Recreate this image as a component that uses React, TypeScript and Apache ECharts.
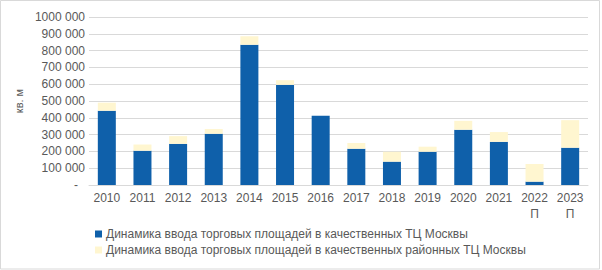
import React, { useEffect, useRef } from "react";
import * as echarts from "echarts";

const categories = ["2010", "2011", "2012", "2013", "2014", "2015", "2016", "2017", "2018", "2019", "2020", "2021", "2022\nП", "2023\nП"];
const qualityMalls = [442000, 204000, 245000, 305000, 835000, 596000, 412000, 216000, 139000, 198000, 329000, 257000, 20000, 222000];
const districtMalls = [48000, 37000, 46000, 28000, 50000, 28000, 0, 34000, 59000, 30000, 53000, 58000, 105000, 164000];
const seriesNames = [
  "Динамика ввода торговых площадей в качественных ТЦ Москвы",
  "Динамика ввода торговых площадей в качественных районных ТЦ Москвы",
];
const yAxisName = "кв. м";

const FONT = "'Liberation Sans', Arial, sans-serif";
const TEXT = "#595959";

function fmt(v: number): string {
  if (v === 0) return "{d|-}";
  const thousands = Math.round(v / 1000);
  return `${thousands} 000`;
}

export default function App() {
  const ref = useRef<HTMLDivElement>(null);
  useEffect(() => {
    document.body.style.margin = "0";
    if (!ref.current) return;
    const chart = echarts.init(ref.current, undefined, { renderer: "svg" });
    chart.setOption({
      animation: false,
      backgroundColor: "#ffffff",
      textStyle: { fontFamily: FONT },
      graphic: [
        {
          type: "rect",
          shape: { x: 0.5, y: 0.5, width: 599, height: 268.5 },
          style: { fill: "none", stroke: "#d9d9d9", lineWidth: 1 },
          silent: true,
          z: 100,
        },
      ],
      grid: { left: 89, right: 14, top: 17, bottom: 85, containLabel: false },
      legend: {
        orient: "vertical",
        left: 95,
        top: 228,
        padding: 0,
        itemWidth: 7,
        itemHeight: 7,
        itemGap: 4,
        icon: "rect",
        textStyle: { fontSize: 12, color: TEXT, fontFamily: FONT, padding: [0, 0, 0, -1] },
        data: seriesNames,
      },
      xAxis: {
        type: "category",
        data: categories,
        axisLine: { lineStyle: { color: "#d9d9d9" } },
        axisTick: { show: false },
        axisLabel: { color: TEXT, fontSize: 12, margin: 5, lineHeight: 16, fontFamily: FONT, interval: 0 },
      },
      yAxis: {
        type: "value",
        min: 0,
        max: 1000000,
        interval: 100000,
        name: yAxisName,
        nameLocation: "middle",
        nameRotate: 90,
        nameGap: 60,
        nameTextStyle: { color: TEXT, fontSize: 11, fontFamily: FONT },
        axisLine: { show: false },
        axisTick: { show: false },
        splitLine: { lineStyle: { color: "#d9d9d9" } },
        axisLabel: {
          color: TEXT,
          fontSize: 12,
          margin: 4,
          fontFamily: FONT,
          formatter: fmt,
          rich: { d: { color: TEXT, fontSize: 12, padding: [0, 7, 0, 0], fontFamily: FONT } },
        },
      },
      series: [
        {
          name: seriesNames[0],
          type: "bar",
          stack: "total",
          data: qualityMalls,
          barWidth: 18,
          itemStyle: { color: "#0F60AA" },
        },
        {
          name: seriesNames[1],
          type: "bar",
          stack: "total",
          data: districtMalls,
          barWidth: 18,
          itemStyle: { color: "#FFF6D0" },
        },
      ],
    });
    return () => chart.dispose();
  }, []);
  return <div ref={ref} style={{ width: 602, height: 270 }} />;
}
